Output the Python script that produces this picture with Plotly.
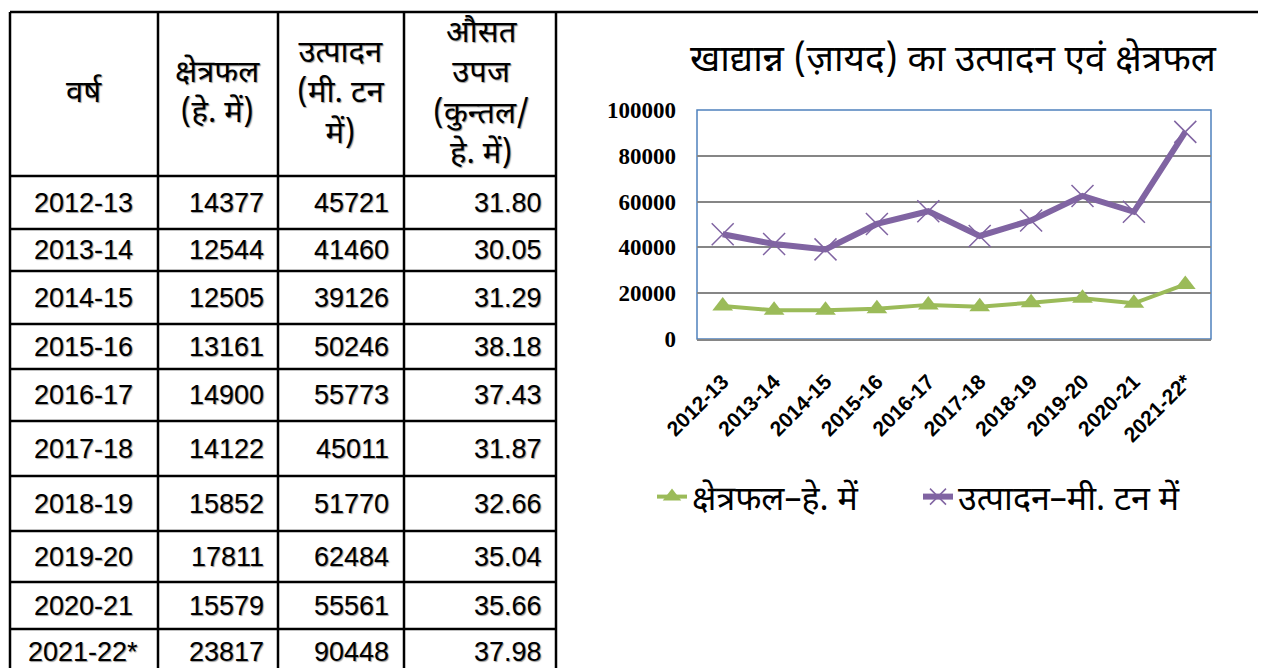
import plotly.graph_objects as go

# ---------------- data ----------------
years = ['2012-13', '2013-14', '2014-15', '2015-16', '2016-17',
         '2017-18', '2018-19', '2019-20', '2020-21', '2021-22*']
area_ha = [14377, 12544, 12505, 13161, 14900, 14122, 15852, 17811, 15579, 23817]
production_mt = [45721, 41460, 39126, 50246, 55773, 45011, 51770, 62484, 55561, 90448]
avg_yield = [31.80, 30.05, 31.29, 38.18, 37.43, 31.87, 32.66, 35.04, 35.66, 37.98]

header_labels = ['वर्ष', 'क्षेत्रफल<br>(हे. में)', 'उत्पादन<br>(मी. टन<br>में)',
                 'औसत<br>उपज<br>(कुन्तल/<br>हे. में)']
chart_title = 'खाद्यान्न (ज़ायद) का उत्पादन एवं क्षेत्रफल'
series_names = ['क्षेत्रफल–हे. में', 'उत्पादन–मी. टन में']
y_ticks = [0, 20000, 40000, 60000, 80000, 100000]

# ---------------- layout helpers ----------------
W, H = 1266, 668
OX, OY = 8, 8   # page body margin compensation
def px(x):
    return (x - OX) / W
def py(y):
    return 1 - (y - OY) / H

col_lines = [10, 158, 278, 404, 556]
row_lines = [12, 176, 229, 271, 324, 369, 421, 476, 531, 582, 629, 700]

fig = go.Figure()

fig.add_trace(go.Scatter(
    x=years, y=area_ha, name=series_names[0], mode='lines+markers',
    line=dict(color='#9BBB59', width=4),
    marker=dict(symbol='triangle-up', size=18, color='#9BBB59'),
))
fig.add_trace(go.Scatter(
    x=years, y=production_mt, name=series_names[1], mode='lines+markers',
    line=dict(color='#8064A2', width=6),
    marker=dict(symbol='x-thin', size=22, line=dict(color='#8064A2', width=1.5)),
))

shapes = []
for x in col_lines:
    shapes.append(dict(type='line', xref='paper', yref='paper',
                       x0=px(x), x1=px(x), y0=py(12), y1=py(700),
                       line=dict(color='black', width=2.5)))
for i, y in enumerate(row_lines):
    x1 = W + OX if i == 0 else col_lines[-1]
    shapes.append(dict(type='line', xref='paper', yref='paper',
                       x0=px(col_lines[0]), x1=px(x1), y0=py(y), y1=py(y),
                       line=dict(color='black', width=2.5)))
shapes.append(dict(type='rect', xref='x domain', yref='y domain',
                   x0=0, x1=1, y0=0, y1=1, layer='below',
                   line=dict(color='#4F81BD', width=1.5)))

annotations = []
cell_font = dict(family='Liberation Sans Narrow, Arial Narrow, Liberation Sans, Arial',
                 size=27, color='black', shadow='1px 1px 1px #999')
head_font = dict(family='Noto Sans Devanagari, Noto Sans, Mangal, sans-serif',
                 size=31, color='black', shadow='1px 1px 1px #999')

head_x = [84, 217, 341, 481]
for hx, lab in zip(head_x, header_labels):
    annotations.append(dict(text=lab, x=px(hx), y=py(95), xref='paper', yref='paper',
                            showarrow=False, xanchor='center', yanchor='middle',
                            font=head_font, align='center'))

right_edges = [266, 391, 544]
for i, yr in enumerate(years):
    yc = (row_lines[i + 1] + row_lines[i + 2]) / 2
    if i == len(years) - 1:
        yc = 652
    annotations.append(dict(text=yr, x=px(83), y=py(yc), xref='paper', yref='paper',
                            showarrow=False, xanchor='center', yanchor='middle', font=cell_font))
    vals = [str(area_ha[i]), str(production_mt[i]), f'{avg_yield[i]:.2f}']
    for re_, v in zip(right_edges, vals):
        annotations.append(dict(text=v, x=px(re_), y=py(yc), xref='paper', yref='paper',
                                showarrow=False, xanchor='right', yanchor='middle', font=cell_font))

annotations.append(dict(text=chart_title, x=px(953), y=py(62), xref='paper', yref='paper',
                        showarrow=False, xanchor='center', yanchor='middle',
                        font=dict(family='Noto Sans Devanagari, Noto Sans, sans-serif',
                                  size=37, color='black')))

fig.update_layout(
    width=W, height=H, autosize=False,
    margin=dict(l=0, r=0, t=0, b=0, pad=0, autoexpand=False),
    paper_bgcolor='white', plot_bgcolor='white',
    shapes=shapes, annotations=annotations,
    showlegend=True,
    legend=dict(orientation='h', x=px(652), y=py(497), xanchor='left', yanchor='middle',
                font=dict(family='Noto Sans Devanagari, Noto Sans, sans-serif', size=34, color='black'),
                entrywidth=221, entrywidthmode='pixels',
                traceorder='normal', bgcolor='rgba(0,0,0,0)'),
    xaxis=dict(domain=[px(697), px(1211)], type='category', automargin=False,
               tickangle=-45, tickfont=dict(family='Liberation Sans, Arial', size=21, color='black',
                                            weight='bold'),
               showline=True, linecolor='#868686', linewidth=2, ticks='', showgrid=False,
               ticklabelstandoff=20,
               range=[-0.5, len(years) - 0.5]),
    yaxis=dict(domain=[py(339), py(110)], range=[0, 100000], tickvals=y_ticks,
               ticktext=[str(v) for v in y_ticks], automargin=False,
               tickfont=dict(family='Liberation Serif, Times New Roman, serif', size=23, color='black',
                             weight='bold'),
               showgrid=True, gridcolor='#868686', gridwidth=1.5, zeroline=False,
               showline=False, ticks='', ticklabelstandoff=20),
)

fig.write_html('out.html')
